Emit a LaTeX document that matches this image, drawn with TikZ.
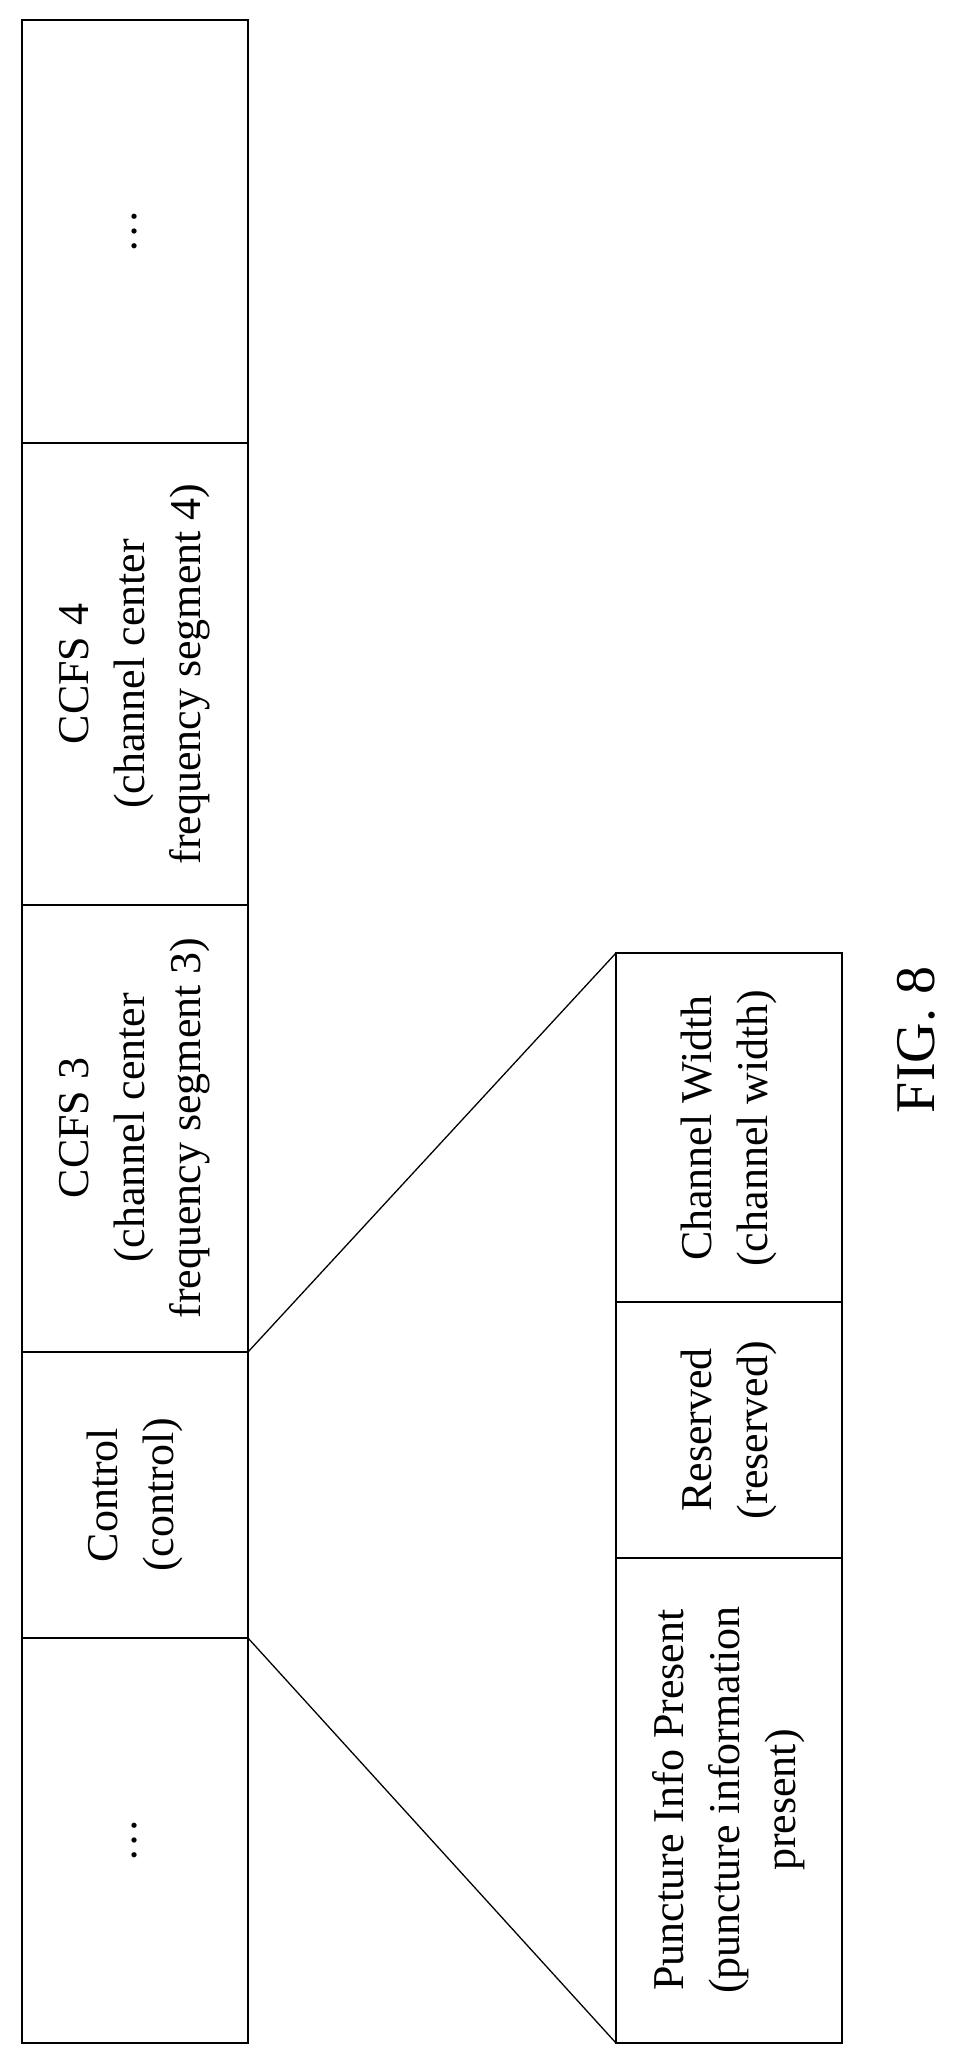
\documentclass[tikz,border=0pt]{standalone}
\usepackage{fontspec}
\setmainfont{Liberation Serif}
\begin{document}
\begin{tikzpicture}[x=1pt,y=-1pt,
  cell/.style={draw=black,line width=1.3pt,minimum width=0pt,inner sep=0pt},
  txt/.style={rotate=90,align=center,font=\fontsize{44}{56}\selectfont},
  ln/.style={line width=1.3pt}]
\useasboundingbox (0,0) rectangle (962,2065);
% main strip
\draw[ln] (22,20) rectangle (248,2043);
\coordinate (a1) at (22,443); \coordinate (b1) at (248,443);
\coordinate (a2) at (22,905); \coordinate (b2) at (248,905);
\coordinate (a3) at (22,1352); \coordinate (b3) at (248,1352);
\coordinate (a4) at (22,1638); \coordinate (b4) at (248,1638);
\draw[ln] (a1)--(b1) (a2)--(b2) (a3)--(b3) (a4)--(b4);
\node[txt] (d1) at (135,231) {\dots};
\node[txt] (c4) at (135,674) {CCFS 4\\(channel center\\frequency segment 4)};
\node[txt] (c3) at (135,1128) {CCFS 3\\(channel center\\frequency segment 3)};
\node[txt] (ctl) at (135,1495) {Control\\(control)};
\node[txt] (d2) at (135,1840) {\dots};
% sub strip
\coordinate (s0) at (616,953); \coordinate (t0) at (842,953);
\draw[ln] (s0) rectangle (842,2043);
\coordinate (s1) at (616,1302); \coordinate (t1) at (842,1302);
\coordinate (s2) at (616,1558); \coordinate (t2) at (842,1558);
\coordinate (s3) at (616,2043);
\draw[ln] (s1)--(t1) (s2)--(t2);
\draw[ln] (b3)--(s0) (b4)--(s3);
\node[txt] (cw) at (729,1128) {Channel Width\\(channel width)};
\node[txt] (rs) at (729,1430) {Reserved\\(reserved)};
\node[txt] (pi) at (729,1800) {Puncture Info Present\\(puncture information\\present)};
\node[rotate=90,font=\fontsize{56}{60}\selectfont] (fig) at (916,1040) {FIG. 8};
\end{tikzpicture}
\end{document}
